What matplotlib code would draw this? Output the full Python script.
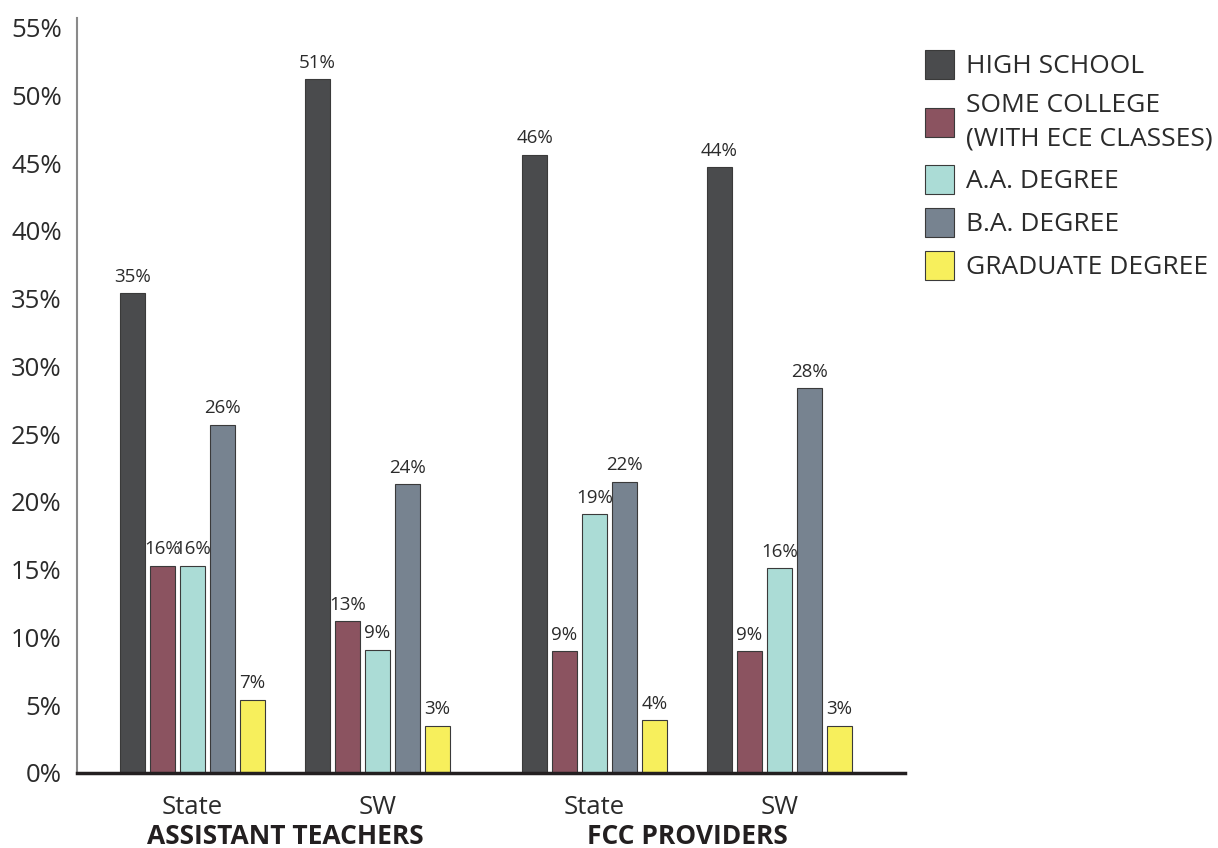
import numpy as np
import matplotlib
matplotlib.use("Agg")
import matplotlib.pyplot as plt
from matplotlib.transforms import blended_transform_factory

plt.rcParams['font.family'] = ['Open Sans', 'DejaVu Sans']

# Data
groups = ["State", "SW", "State", "SW"]
group_titles = ["ASSISTANT TEACHERS", "FCC PROVIDERS"]
levels = ["HIGH SCHOOL", "SOME COLLEGE\n(WITH ECE CLASSES)", "A.A. DEGREE",
          "B.A. DEGREE", "GRADUATE DEGREE"]
colors = ["#4a4b4d", "#8b5360", "#abdcd6", "#778390", "#f7ef5c"]

# bar heights (as drawn) per level, one value per group
high_school = [35.4, 51.2, 45.6, 44.7]
some_college = [15.3, 11.2, 9.0, 9.0]
aa_degree = [15.3, 9.1, 19.1, 15.1]
ba_degree = [25.7, 21.3, 21.5, 28.4]
grad_degree = [5.4, 3.5, 3.9, 3.5]

# printed labels
hs_labels = ["35%", "51%", "46%", "44%"]
sc_labels = ["16%", "13%", "9%", "9%"]
aa_labels = ["16%", "9%", "19%", "16%"]
ba_labels = ["26%", "24%", "22%", "28%"]
gd_labels = ["7%", "3%", "4%", "3%"]

series = [high_school, some_college, aa_degree, ba_degree, grad_degree]
series_labels = [hs_labels, sc_labels, aa_labels, ba_labels, gd_labels]

text_col = "#2b2b2b"

fig = plt.figure(figsize=(12.18, 8.48), dpi=100)
ax = fig.add_axes([77 / 1218, 1 - 773 / 848, (905 - 77) / 1218, (773 - 18) / 848])

# group positions, with a wider gap between the two sections
gap = 1.173
x = np.array([0, 1, gap + 1, gap + 2])
step = 30 / 185
width = 25 / 185

handles = []
for i, (vals, labs) in enumerate(zip(series, series_labels)):
    pos = x + (i - 2) * step
    b = ax.bar(pos, vals, width=width, color=colors[i], edgecolor="#3a3a3a",
               linewidth=0.8, label=levels[i], zorder=2)
    handles.append(b)
    for px, v, t in zip(pos, vals, labs):
        ax.text(px, v + 0.55, t, ha="center", va="bottom", fontsize=13.5,
                color=text_col)

ax.set_xlim(-0.624, 3.851)
ax.set_ylim(0, 55.7)
ax.set_yticks(np.arange(0, 56, 5))
ax.set_yticklabels([f"{v}%" for v in range(0, 56, 5)])
ax.set_xticks(x)
ax.set_xticklabels(groups)
ax.tick_params(axis="both", length=0, labelsize=18.5, colors=text_col)
ax.tick_params(axis="y", pad=11)
ax.tick_params(axis="x", pad=16)

for s in ["top", "right"]:
    ax.spines[s].set_visible(False)
ax.spines["left"].set_color("#8a8a8a")
ax.spines["left"].set_linewidth(1.5)
ax.spines["bottom"].set_color("#231f20")
ax.spines["bottom"].set_linewidth(2.5)
ax.spines["bottom"].set_zorder(3)

# section titles under each pair of groups
title_tr = blended_transform_factory(ax.transData, fig.transFigure)
for k, title in enumerate(group_titles):
    xc = (x[2 * k] + x[2 * k + 1]) / 2
    ax.text(xc, 1 - 836 / 848, title, transform=title_tr,
            ha="center", va="center", fontsize=19, fontweight="bold", color="#231f20")

leg = fig.legend(handles=handles, labels=levels, loc="upper left",
                 bbox_to_anchor=(925 / 1218, 1 - 50 / 848), frameon=False,
                 borderpad=0, borderaxespad=0,
                 fontsize=19, handlelength=1.1, handleheight=1.3,
                 handletextpad=0.45, labelspacing=0.52, labelcolor=text_col)
for t in leg.get_texts():
    t.set_linespacing(1.45)

fig.savefig("out.png", dpi=100)
